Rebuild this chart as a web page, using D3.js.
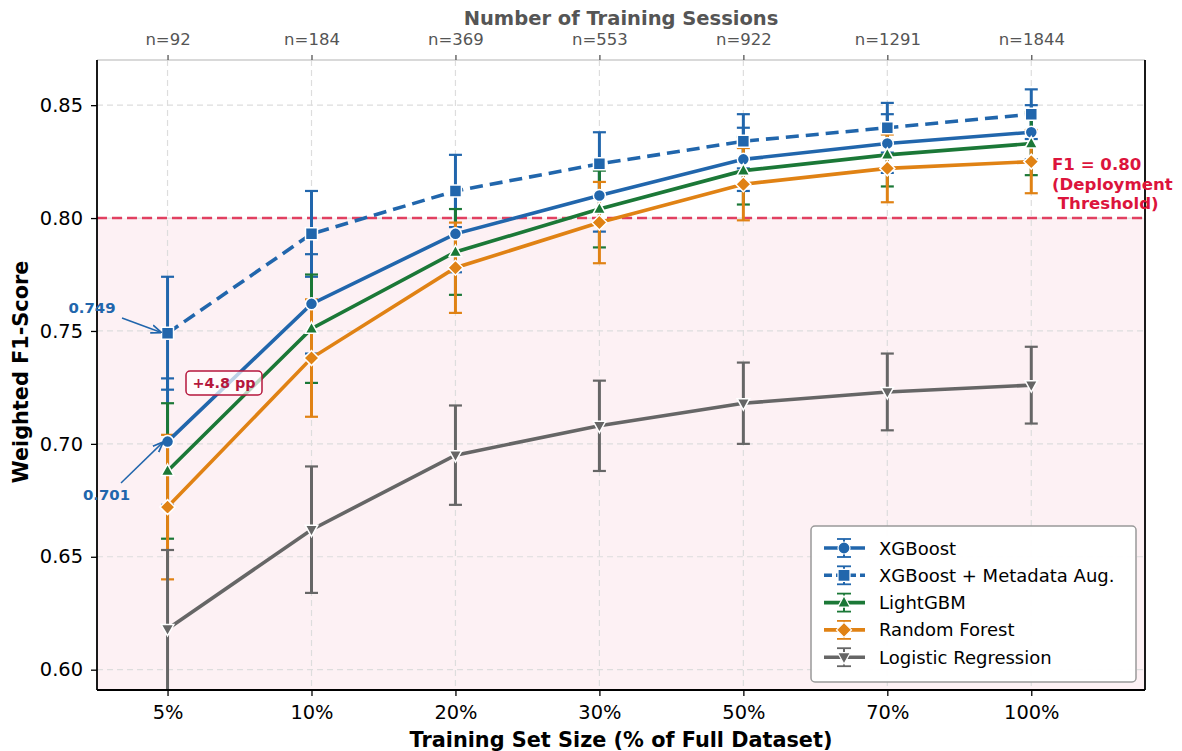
<!DOCTYPE html>
<html>
<head>
<meta charset="utf-8">
<script src="https://cdn.jsdelivr.net/npm/d3@7"></script>
<style>
  body { margin: 0; background: #fff; }
  svg text { font-family: "DejaVu Sans", sans-serif; }
</style>
</head>
<body>
<svg id="chart" width="1182" height="751"></svg>
<script>
// categories / tick labels
var sizes = ["5%", "10%", "20%", "30%", "50%", "70%", "100%"];
var sessions = ["n=92", "n=184", "n=369", "n=553", "n=922", "n=1291", "n=1844"];
var yTicks = [0.60, 0.65, 0.70, 0.75, 0.80, 0.85];

// series values (mean F1 and error)
var xgb = [0.701, 0.762, 0.793, 0.810, 0.826, 0.833, 0.838];
var xgbErr = [0.028, 0.022, 0.017, 0.016, 0.014, 0.013, 0.012];
var aug = [0.749, 0.793, 0.812, 0.824, 0.834, 0.840, 0.846];
var augErr = [0.025, 0.019, 0.016, 0.014, 0.012, 0.011, 0.011];
var lgbm = [0.688, 0.751, 0.785, 0.804, 0.821, 0.828, 0.833];
var lgbmErr = [0.030, 0.024, 0.019, 0.017, 0.015, 0.014, 0.014];
var rf = [0.672, 0.738, 0.778, 0.798, 0.815, 0.822, 0.825];
var rfErr = [0.032, 0.026, 0.020, 0.018, 0.016, 0.015, 0.014];
var lr = [0.618, 0.662, 0.695, 0.708, 0.718, 0.723, 0.726];
var lrErr = [0.035, 0.028, 0.022, 0.020, 0.018, 0.017, 0.017];

var threshold = 0.80;

var series = [
  {name: "XGBoost", vals: xgb, err: xgbErr, color: "#2166ac", marker: "circle", dash: null},
  {name: "XGBoost + Metadata Aug.", vals: aug, err: augErr, color: "#2166ac", marker: "square", dash: "13,7"},
  {name: "LightGBM", vals: lgbm, err: lgbmErr, color: "#1b7837", marker: "tri-up", dash: null},
  {name: "Random Forest", vals: rf, err: rfErr, color: "#e08214", marker: "diamond", dash: null},
  {name: "Logistic Regression", vals: lr, err: lrErr, color: "#666666", marker: "tri-down", dash: null}
];

var L = 97, R = 1145, T = 60, B = 690;
var svg = d3.select("#chart");

var x = d3.scaleLinear().domain([-0.49, 6.79]).range([L, R]);
var y = d3.scaleLinear().domain([0.591, 0.870]).range([B, T]);

var defs = svg.append("defs");
defs.append("clipPath").attr("id", "clip")
  .append("rect").attr("x", L).attr("y", T).attr("width", R - L).attr("height", B - T);

// shaded area below threshold
svg.append("rect")
  .attr("x", L).attr("y", y(threshold))
  .attr("width", R - L).attr("height", B - y(threshold))
  .attr("fill", "#fdf1f4");

// grid
var grid = svg.append("g");
sizes.forEach(function(s, i) {
  grid.append("line").attr("x1", x(i)).attr("x2", x(i)).attr("y1", T).attr("y2", B)
    .attr("stroke", "#dddddd").attr("stroke-width", 1.2).attr("stroke-dasharray", "6,4");
});
yTicks.forEach(function(t) {
  grid.append("line").attr("x1", L).attr("x2", R).attr("y1", y(t)).attr("y2", y(t))
    .attr("stroke", "#dddddd").attr("stroke-width", 1.2).attr("stroke-dasharray", "6,4");
});

// threshold line
svg.append("line").attr("x1", L).attr("x2", R).attr("y1", y(threshold)).attr("y2", y(threshold))
  .attr("stroke", "#dc143c").attr("stroke-opacity", 0.8).attr("stroke-width", 2.5)
  .attr("stroke-dasharray", "10,5");

function markerPath(type, s) {
  var r = s / 2;
  if (type === "circle") return d3.symbol().type(d3.symbolCircle).size(Math.PI * r * r)();
  if (type === "square") return "M" + (-r) + "," + (-r) + "h" + s + "v" + s + "h" + (-s) + "Z";
  if (type === "diamond") return "M0," + (-r * 1.25) + "L" + (r * 1.25) + ",0L0," + (r * 1.25) + "L" + (-r * 1.25) + ",0Z";
  if (type === "tri-up") return "M0," + (-r * 1.15) + "L" + (r * 1.05) + "," + (r * 0.75) + "L" + (-r * 1.05) + "," + (r * 0.75) + "Z";
  if (type === "tri-down") return "M0," + (r * 1.15) + "L" + (r * 1.05) + "," + (-r * 0.75) + "L" + (-r * 1.05) + "," + (-r * 0.75) + "Z";
}

var plot = svg.append("g").attr("clip-path", "url(#clip)");
var line = d3.line().x(function(d, i) { return x(i); }).y(function(d) { return y(d); });

// error bars sit under all lines and markers
var errLayer = plot.append("g");
var lineLayer = plot.append("g");
series.forEach(function(s) {
  s.vals.forEach(function(v, i) {
    var lo = y(v - s.err[i]), hi = y(v + s.err[i]);
    errLayer.append("line").attr("x1", x(i)).attr("x2", x(i)).attr("y1", lo).attr("y2", hi)
      .attr("stroke", s.color).attr("stroke-width", 3);
    [lo, hi].forEach(function(cy) {
      errLayer.append("line").attr("x1", x(i) - 6.5).attr("x2", x(i) + 6.5).attr("y1", cy).attr("y2", cy)
        .attr("stroke", s.color).attr("stroke-width", 2.2);
    });
  });
  var g = lineLayer.append("g");
  g.append("path").datum(s.vals).attr("d", line)
    .attr("fill", "none").attr("stroke", s.color).attr("stroke-width", 3.6)
    .attr("stroke-dasharray", s.dash);
  g.selectAll(".m").data(s.vals).enter().append("path")
    .attr("d", markerPath(s.marker, 12))
    .attr("transform", function(d, i) { return "translate(" + x(i) + "," + y(d) + ")"; })
    .attr("fill", s.color).attr("stroke", "#fff").attr("stroke-width", 1.5);
});

// spines
svg.append("line").attr("x1", L).attr("x2", R).attr("y1", T).attr("y2", T).attr("stroke", "#cccccc").attr("stroke-width", 1.5);
svg.append("line").attr("x1", L).attr("x2", L).attr("y1", T).attr("y2", B).attr("stroke", "#000").attr("stroke-width", 1.8);
svg.append("line").attr("x1", R).attr("x2", R).attr("y1", T).attr("y2", B).attr("stroke", "#000").attr("stroke-width", 1.8);
svg.append("line").attr("x1", L).attr("x2", R).attr("y1", B).attr("y2", B).attr("stroke", "#000").attr("stroke-width", 1.8);

// axes
var xAxis = d3.axisBottom(x).tickValues(d3.range(sizes.length))
  .tickFormat(function(i) { return sizes[i]; }).tickSize(6).tickPadding(9);
var gx = svg.append("g").attr("transform", "translate(0," + B + ")").call(xAxis);
gx.select(".domain").remove();
gx.selectAll("line").attr("stroke-width", 1.3);
gx.selectAll("text").attr("font-size", 19.4).attr("fill", "#000");

var yAxis = d3.axisLeft(y).tickValues(yTicks).tickFormat(d3.format(".2f")).tickSize(6).tickPadding(8);
var gy = svg.append("g").attr("transform", "translate(" + L + ",0)").call(yAxis);
gy.select(".domain").remove();
gy.selectAll("line").attr("stroke-width", 1.3);
gy.selectAll("text").attr("font-size", 19.4).attr("fill", "#000");

var topAxis = d3.axisTop(x).tickValues(d3.range(sessions.length))
  .tickFormat(function(i) { return sessions[i]; }).tickSize(5).tickPadding(10);
var gt = svg.append("g").attr("transform", "translate(0," + T + ")").call(topAxis);
gt.select(".domain").remove();
gt.selectAll("line").attr("stroke", "#555").attr("stroke-width", 1.3);
gt.selectAll("text").attr("font-size", 16.5).attr("fill", "#555");

// axis titles
svg.append("text").attr("x", (L + R) / 2).attr("y", 25).attr("text-anchor", "middle")
  .attr("font-size", 19.5).attr("font-weight", "bold").attr("fill", "#555")
  .text("Number of Training Sessions");
svg.append("text").attr("x", (L + R) / 2).attr("y", 747).attr("text-anchor", "middle")
  .attr("font-size", 20.8).attr("font-weight", "bold").attr("fill", "#000")
  .text("Training Set Size (% of Full Dataset)");
svg.append("text").attr("transform", "translate(28,372) rotate(-90)")
  .attr("text-anchor", "middle")
  .attr("font-size", 20.8).attr("font-weight", "bold").attr("fill", "#000")
  .text("Weighted F1-Score");

// threshold label
var th = svg.append("text").attr("font-size", 16.6).attr("font-weight", "bold").attr("fill", "#dc143c")
  .attr("xml:space", "preserve");
th.append("tspan").attr("x", 1052).attr("y", 170).text("F1 = 0.80");
th.append("tspan").attr("x", 1052).attr("y", 189.5).text("(Deployment");
th.append("tspan").attr("x", 1052).attr("y", 209).text(" Threshold)");

// annotations
defs.append("marker").attr("id", "arr").attr("viewBox", "0 0 10 10")
  .attr("refX", 9).attr("refY", 5).attr("markerWidth", 7).attr("markerHeight", 7)
  .attr("orient", "auto-start-reverse")
  .append("path").attr("d", "M0,1L10,5L0,9").attr("fill", "none").attr("stroke", "#2166ac").attr("stroke-width", 1.6);

svg.append("line").attr("x1", 122).attr("y1", 318).attr("x2", x(0) - 7).attr("y2", y(aug[0]) - 1)
  .attr("stroke", "#2166ac").attr("stroke-width", 1.5).attr("marker-end", "url(#arr)");
svg.append("text").attr("x", 92).attr("y", 313).attr("text-anchor", "middle")
  .attr("font-size", 14.9).attr("font-weight", "bold").attr("fill", "#2166ac").text(aug[0].toFixed(3));

svg.append("line").attr("x1", 121).attr("y1", 483).attr("x2", x(0) - 5).attr("y2", y(xgb[0]) + 1)
  .attr("stroke", "#2166ac").attr("stroke-width", 1.5).attr("marker-end", "url(#arr)");
svg.append("text").attr("x", 106.5).attr("y", 500).attr("text-anchor", "middle")
  .attr("font-size", 14.9).attr("font-weight", "bold").attr("fill", "#2166ac").text(xgb[0].toFixed(3));

var gain = ((aug[0] - xgb[0]) * 100).toFixed(1);
svg.append("rect").attr("x", 186).attr("y", 371).attr("width", 76).attr("height", 24).attr("rx", 4)
  .attr("fill", "#fff").attr("fill-opacity", 0.7).attr("stroke", "#b5173d").attr("stroke-width", 1.5);
svg.append("text").attr("x", 224).attr("y", 388).attr("text-anchor", "middle")
  .attr("font-size", 14.4).attr("font-weight", "bold").attr("fill", "#b5173d").text("+" + gain + " pp");

// legend
var lg = svg.append("g");
lg.append("rect").attr("x", 811).attr("y", 526).attr("width", 325).attr("height", 156).attr("rx", 4)
  .attr("fill", "#fff").attr("fill-opacity", 0.95).attr("stroke", "#999").attr("stroke-width", 1.5);
series.forEach(function(s, i) {
  var cy = 548 + i * 27.3, cx = 844;
  lg.append("line").attr("x1", 824).attr("x2", 865).attr("y1", cy).attr("y2", cy)
    .attr("stroke", s.color).attr("stroke-width", 3.6).attr("stroke-dasharray", s.dash ? "8,4" : null);
  lg.append("line").attr("x1", cx).attr("x2", cx).attr("y1", cy - 9).attr("y2", cy + 9)
    .attr("stroke", s.color).attr("stroke-width", 2);
  [cy - 9, cy + 9].forEach(function(yy) {
    lg.append("line").attr("x1", cx - 7).attr("x2", cx + 7).attr("y1", yy).attr("y2", yy)
      .attr("stroke", s.color).attr("stroke-width", 1.8);
  });
  lg.append("path").attr("d", markerPath(s.marker, 12)).attr("transform", "translate(" + cx + "," + cy + ")")
    .attr("fill", s.color).attr("stroke", "#fff").attr("stroke-width", 1.2);
  lg.append("text").attr("x", 879).attr("y", cy + 6.5).attr("font-size", 18).attr("fill", "#000").text(s.name);
});
</script>
</body>
</html>
